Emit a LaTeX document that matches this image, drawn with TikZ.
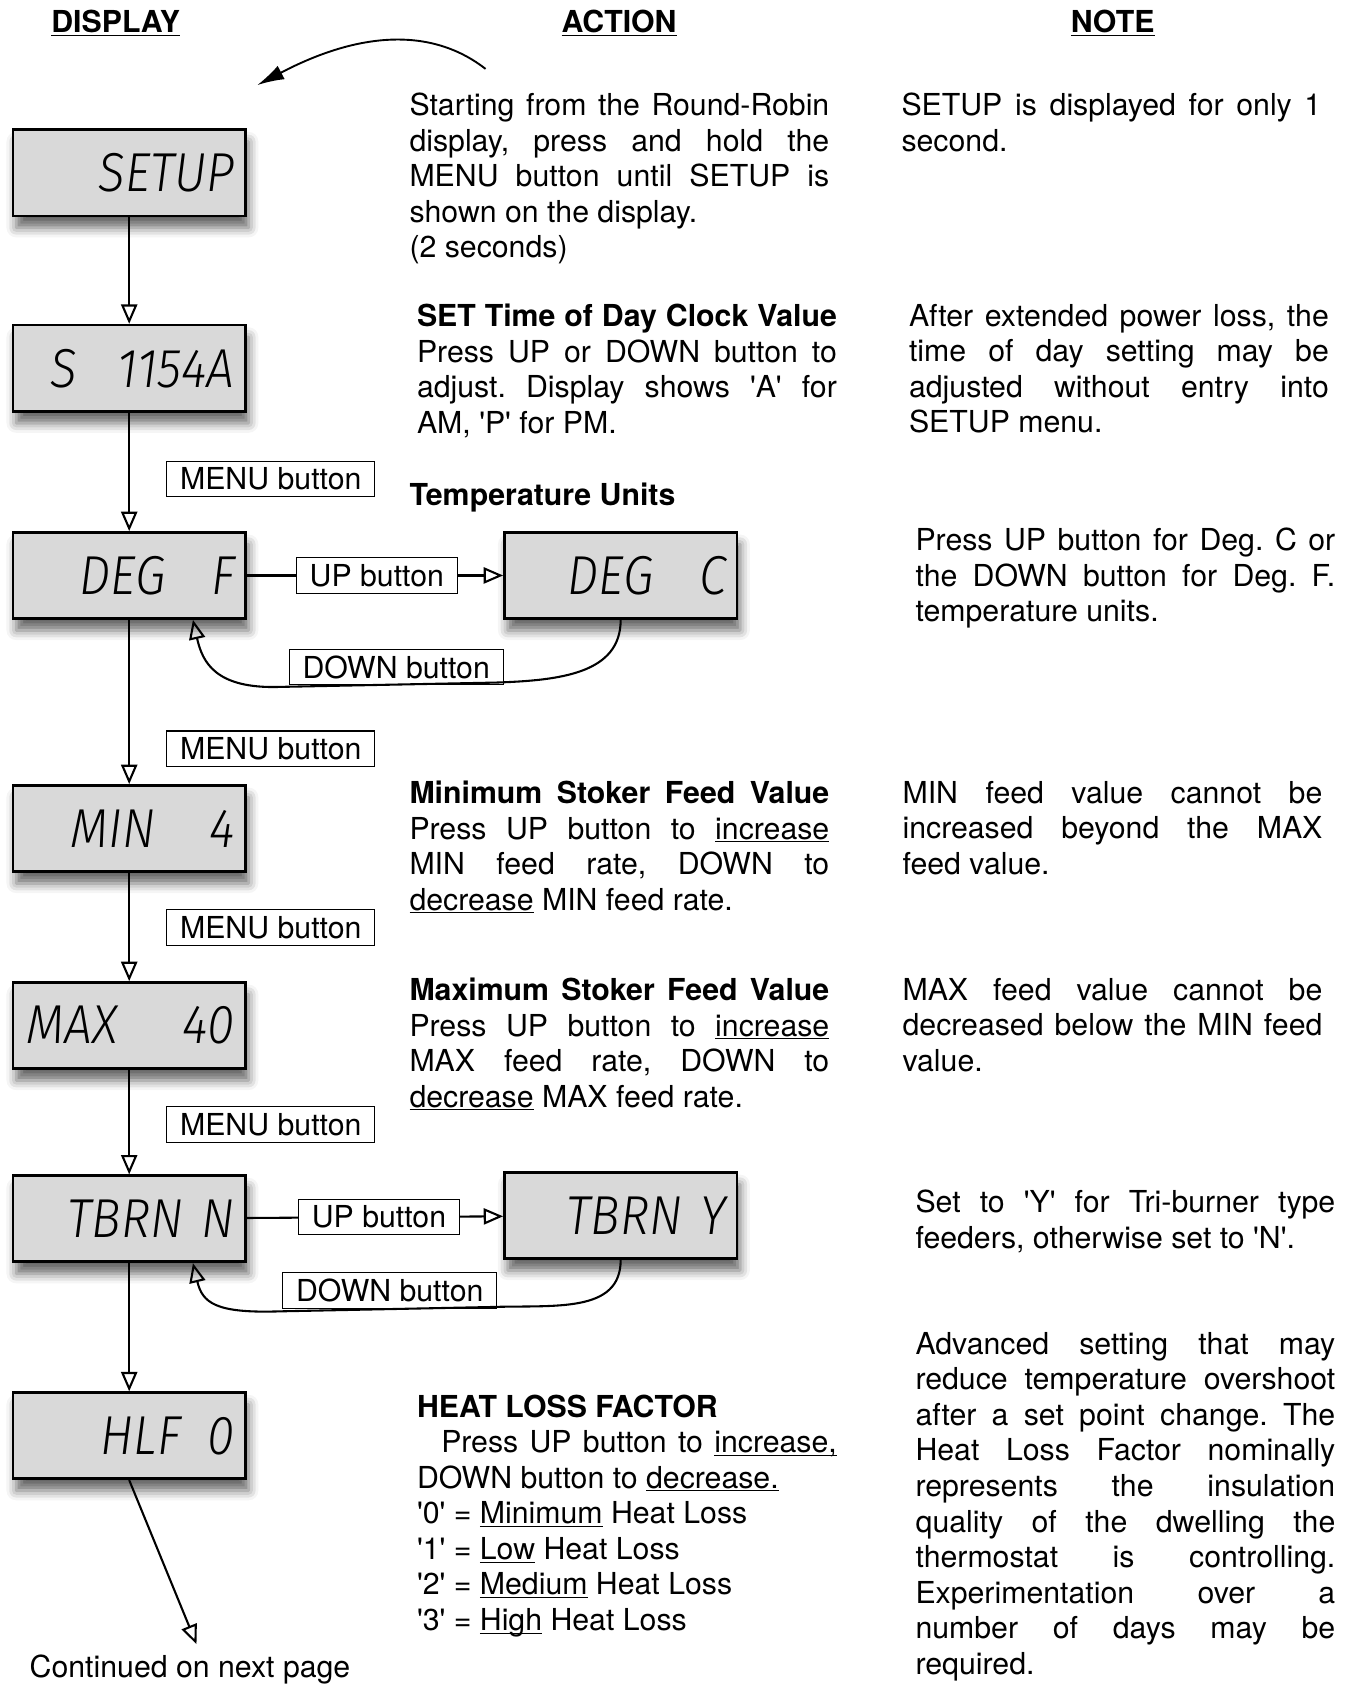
\documentclass[tikz,border=0pt]{standalone}
\usepackage{fontspec}
\setmainfont{TeX Gyre Heros}
\newfontfamily\lcdfont{Fira Sans Light Italic}[FakeStretch=0.9]
\usetikzlibrary{
  arrows.meta,
  shadows.blur}
\definecolor{lcdgray}{HTML}{D9D9D9}
\newlength\colw
\setlength\colw{7.8cm}
\newcommand\jl[1]{\makebox[\colw][s]{#1}}
\newcommand\uln[1]{\underline{\smash{#1}}}
\newcommand\sq{\textquotesingle}
\frenchspacing

\begin{document}
\begin{tikzpicture}[x=0.02cm, y=-0.02cm]
\tikzset{
  lcd/.style={
    draw, line width=1.4pt, fill=lcdgray,
    minimum width=4.32cm, minimum height=1.6cm,
    text width=3.92cm, align=right, inner xsep=0.2cm,
    font=\lcdfont\fontsize{29pt}{29pt}\selectfont,
    blur shadow={shadow xshift=0.06cm, shadow yshift=-0.22cm,
      shadow blur radius=0.18cm, shadow opacity=60}},
  btn/.style={
    draw, line width=0.6pt, fill=white,
    minimum height=0.66cm, inner xsep=0.25cm, inner ysep=0pt,
    font=\fontsize{16pt}{18.8pt}\selectfont},
  flow/.style={
    draw, line width=1.1pt,
    -{Triangle[open, length=0.36cm, width=0.3cm]}},
  txt/.style={
    anchor=north west, inner sep=0pt, align=left,
    font=\fontsize{16pt}{18.8pt}\selectfont},
  head/.style={
    inner sep=0pt,
    font=\fontsize{16pt}{18.8pt}\selectfont\bfseries},
}
\useasboundingbox (0,0) rectangle (1255,1566);

% column heads
\node[head] (hdisplay) at (107.5,22) {\underline{DISPLAY}};
\node[head] (haction) at (575,22) {\underline{ACTION}};
\node[head] (hnote) at (1033.5,22) {\underline{NOTE}};

% displays
\node[lcd] (setup) at (120,160.5) {SETUP};
\node[lcd] (clock) at (120,342) {S\hspace{0.75cm}1154A};
\node[lcd] (degf) at (120,534.5) {DEG\hspace{0.85cm}F\hspace*{0.3cm}};
\node[lcd] (degc) at (576.5,534.5) {DEG\hspace{0.85cm}C\hspace*{0.1cm}};
\node[lcd] (minf) at (120,769.5) {MIN\hspace{1cm}4};
\node[lcd] (maxf) at (120,952.5) {MAX\hspace{1.2cm}40};
\node[lcd] (tbrnn) at (120,1132) {TBRN N};
\node[lcd] (tbrny) at (576.5,1129) {TBRN Y};
\node[lcd] (hlf) at (120,1333.5) {HLF\hspace{0.5cm}0};

% button labels
\node[btn] (menua) at (251.5,445) {MENU button};
\node[btn] (upa) at (350,534.5) {UP button};
\node[btn] (downa) at (368,619.5) {DOWN button};
\node[btn] (menub) at (251.5,695.5) {MENU button};
\node[btn] (menuc) at (251.5,861.5) {MENU button};
\node[btn] (menud) at (251.5,1044.5) {MENU button};
\node[btn] (upb) at (352,1130.5) {UP button};
\node[btn] (downb) at (362,1198.5) {DOWN button};

\node[txt, anchor=center] (cont) at (176.5,1551) {Continued on next page};

% arrows
\coordinate (rrtail) at (451,64);
\coordinate (rrhead) at (239,79);
\draw[line width=1pt, -{Latex[length=0.5cm, width=0.28cm]}]
  (rrtail) .. controls (405,28) and (340,26) .. (rrhead);

\draw[flow] (setup) -- (clock);
\draw[flow] (clock) -- (degf);
\draw[flow] (degf) -- (minf);
\draw[flow] (minf) -- (maxf);
\draw[flow] (maxf) -- (tbrnn);
\draw[flow] (tbrnn) -- (hlf);
\draw[line width=1.1pt] (degf) -- (upa);
\draw[flow] (upa) -- (degc);
\draw[line width=1.1pt] (tbrnn) -- (upb);
\draw[flow] (upb) -- (tbrny);
\draw[flow] (degc.south) .. controls +(0,50) and +(60,-2) .. (460,634)
  -- (260,638) .. controls (200,640) and (188,615) .. ([xshift=-1cm]degf.south east);
\draw[flow] (tbrny.south) .. controls +(0,50) and +(60,-2) .. (455,1214)
  -- (260,1218) .. controls (200,1220) and (188,1210) .. ([xshift=-1cm]tbrnn.south east);
\draw[flow] (hlf.south) -- ([xshift=0.12cm, yshift=0.2cm]cont.north);

% action column
\node[txt] (act1) at (380,86) {%
  \jl{Starting from the Round-Robin}\\
  \jl{display, press and hold the}\\
  \jl{MENU button until SETUP is}\\
  shown on the display.\\
  (2 seconds)};
\node[txt] (act2) at (387,282) {%
  \jl{\textbf{SET Time of Day Clock Value}}\\
  \jl{Press UP or DOWN button to}\\
  \jl{adjust. Display shows \sq A\sq{} for}\\
  AM, \sq P\sq{} for PM.};
\node[txt] (act3) at (380,448) {\textbf{Temperature Units}};
\node[txt] (act4) at (380,725) {%
  \jl{\textbf{Minimum Stoker Feed Value}}\\
  \jl{Press UP button to \uln{increase}}\\
  \jl{MIN feed rate, DOWN to}\\
  \uln{decrease} MIN feed rate.};
\node[txt] (act5) at (380,908) {%
  \jl{\textbf{Maximum Stoker Feed Value}}\\
  \jl{Press UP button to \uln{increase}}\\
  \jl{MAX feed rate, DOWN to}\\
  \uln{decrease} MAX feed rate.};
\node[txt] (act6) at (387,1295) {%
  \textbf{HEAT LOSS FACTOR}\\
  \jl{\hspace*{0.45cm}Press UP button to \uln{increase,}}\\
  DOWN button to \uln{decrease.}\\
  \sq 0\sq{} = \uln{Minimum} Heat Loss\\
  \sq 1\sq{} = \uln{Low} Heat Loss\\
  \sq 2\sq{} = \uln{Medium} Heat Loss\\
  \sq 3\sq{} = \uln{High} Heat Loss};

% note column
\node[txt] (note1) at (837,86) {%
  \jl{SETUP is displayed for only 1}\\
  second.};
\node[txt] (note2) at (844,282) {%
  \jl{After extended power loss, the}\\
  \jl{time of day setting may be}\\
  \jl{adjusted without entry into}\\
  SETUP menu.};
\node[txt] (note3) at (850,490) {%
  \jl{Press UP button for Deg. C or}\\
  \jl{the DOWN button for Deg. F.}\\
  temperature units.};
\node[txt] (note4) at (838,725) {%
  \jl{MIN feed value cannot be}\\
  \jl{increased beyond the MAX}\\
  feed value.};
\node[txt] (note5) at (838,908) {%
  \jl{MAX feed value cannot be}\\
  \jl{decreased below the MIN feed}\\
  value.};
\node[txt] (note6) at (850,1105) {%
  \jl{Set to \sq Y\sq{} for Tri-burner type}\\
  feeders, otherwise set to \sq N\sq.};
\node[txt] (note7) at (850,1237) {%
  \jl{Advanced setting that may}\\
  \jl{reduce temperature overshoot}\\
  \jl{after a set point change. The}\\
  \jl{Heat Loss Factor nominally}\\
  \jl{represents the insulation}\\
  \jl{quality of the dwelling the}\\
  \jl{thermostat is controlling.}\\
  \jl{Experimentation over a}\\
  \jl{number of days may be}\\
  required.};
\end{tikzpicture}
\end{document}
